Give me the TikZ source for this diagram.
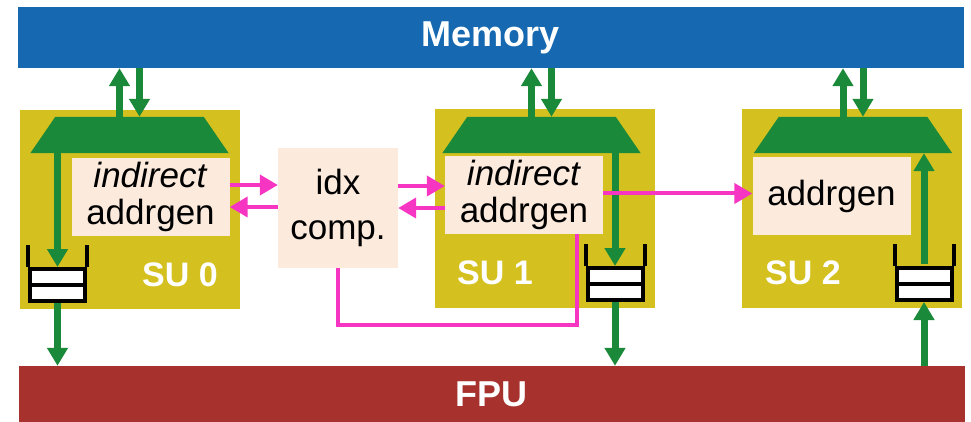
\documentclass[tikz,border=0pt]{standalone}
\usepackage{fontspec}
\setmainfont{Liberation Sans}
\usetikzlibrary{arrows.meta, calc}

\definecolor{membar}{RGB}{22,105,176}
\definecolor{fpubar}{RGB}{166,49,45}
\definecolor{sugreen}{RGB}{26,137,58}
\definecolor{suolive}{RGB}{212,192,30}
\definecolor{boxpeach}{RGB}{252,234,221}
\definecolor{ctlpink}{RGB}{246,54,194}

\tikzset{
	bar/.style={minimum width=946pt, inner sep=0pt, font=\fontsize{36}{40}\selectfont\bfseries\color{white}}
}
\tikzset{
	subox/.style={fill=suolive, minimum width=220pt, minimum height=199pt, inner sep=0pt},
	sulabel/.style={font=\fontsize{34}{36}\selectfont\bfseries\color{white}},
	agbox/.style={fill=boxpeach, minimum width=158pt, minimum height=78pt, inner sep=0pt,
		align=center, font=\fontsize{35}{37}\selectfont},
	muxarea/.style={minimum width=198pt, minimum height=36pt, inner sep=0pt},
	fifo/.style={draw=black, fill=white, line width=4pt, minimum width=55pt, minimum height=32pt, inner sep=0pt},
	garrow/.style={draw=sugreen, line width=7pt, -{Triangle[length=18pt, width=20pt]}},
	parrow/.style={draw=ctlpink, line width=4pt, -{Triangle[length=18pt, width=20pt]}},
	pline/.style={draw=ctlpink, line width=4pt}
}
% mux: trapezoid over the addrgen
\newcommand{\muxshape}[2]{
	\node[muxarea] (#1) at (#2) {};
	\fill[sugreen] (#1.south west) -- ([xshift=25pt]#1.north west) -- ([xshift=-25pt]#1.north east)
		-- (#1.south east) -- cycle;
}
% queue with two slots and open top
\newcommand{\fifobox}[2]{
	\node[fifo] (#1) at (#2) {};
	\draw[line width=4pt] (#1.west) -- (#1.east);
	\draw[line width=4pt] (#1.north west) -- ++(0,-22);
	\draw[line width=4pt] (#1.north east) -- ++(0,-22);
}

\begin{document}
\begin{tikzpicture}[x=1pt, y=-1pt]
  \useasboundingbox (0,0) rectangle (971,422);
  \node[bar, fill=membar, minimum height=61pt] (mem) at (491,37.5) {Memory};
  \node[bar, fill=fpubar, minimum height=56pt] (fpu) at (491.5,394) {FPU};

  % stream units
  \node[subox] (su0) at (129.5,209.5) {};
  \node[subox] (su1) at (544.5,208.5) {};
  \node[subox] (su2) at (852,208.5) {};
  \node[sulabel] at (180,275) {SU 0};
  \node[sulabel] at (495,273) {SU 1};
  \node[sulabel] at (803,273) {SU 2};

  \muxshape{t0}{129.5,135}
  \muxshape{t1}{541.5,135}
  \muxshape{t2}{853,135}

  \node[agbox] (a0) at (150.5,197) {\textit{indirect}\\addrgen};
  \node[agbox] (a1) at (524,195) {\textit{indirect}\\addrgen};
  \node[agbox] (a2) at (831.5,196) {addrgen};
  \node[agbox, minimum width=120pt, minimum height=120pt, font=\fontsize{35}{45}\selectfont] (idx) at (338,208) {idx\\comp.};

  \fifobox{q0}{57.5,285}
  \fifobox{q1}{615,284}
  \fifobox{q2}{924,284}

  % memory ports
  \foreach \t in {t0,t1,t2}{
    \draw[garrow] ([xshift=-10pt]\t.north) -- ([xshift=-10pt]\t.north |- mem.south);
    \draw[garrow] ([xshift=10pt]\t.north |- mem.south) -- ([xshift=10pt]\t.north);
  }
  % data to and from the FPU
  \draw[garrow] (q0 |- t0.south) -- (q0.north);
  \draw[garrow] (q0.south) -- (q0.south |- fpu.north);
  \draw[garrow] (q1 |- t1.south) -- (q1.north);
  \draw[garrow] (q1.south) -- (q1.south |- fpu.north);
  \draw[garrow] (q2.south |- fpu.north) -- (q2.south);
  \draw[garrow] ([yshift=2pt]q2.north) -- (q2 |- t2.south);

  % index path
  \draw[parrow] ([yshift=12pt]a0.east) -- ([yshift=12pt]a0.east -| idx.west);
  \draw[parrow] ([yshift=-10pt]a0.east -| idx.west) -- ([yshift=-10pt]a0.east);
  \draw[parrow] ([yshift=9pt]a1.west -| idx.east) -- ([yshift=9pt]a1.west);
  \draw[parrow] ([yshift=-13pt]a1.west) -- ([yshift=-13pt]a1.west -| idx.east);
  \draw[parrow] ([yshift=1.5pt]a1.east) -- ([yshift=1.5pt]a1.east -| a2.west);
  \coordinate (bend) at (577,325);
  \draw[pline] (idx.south) |- (bend) -- (bend |- a1.south);
\end{tikzpicture}
\end{document}
